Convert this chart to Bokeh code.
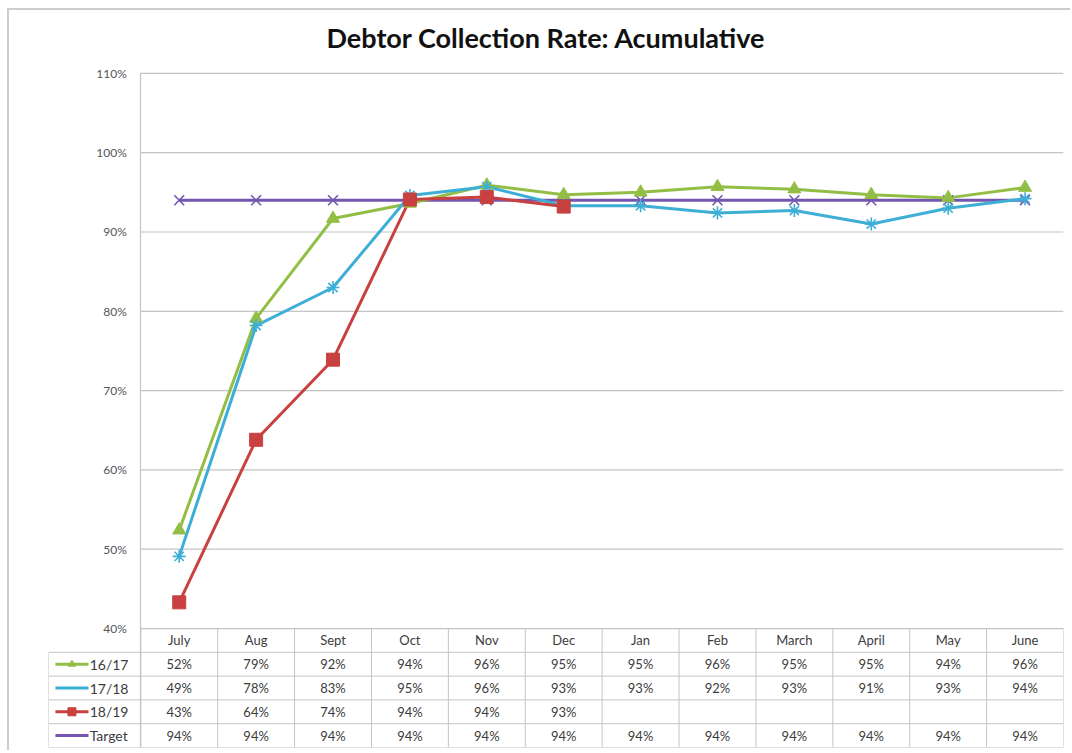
import math

from bokeh.core.properties import value
from bokeh.embed import file_html
from bokeh.models import ColumnDataSource, FixedTicker, PrintfTickFormatter, Range1d
from bokeh.plotting import figure
from bokeh.resources import INLINE

# ---- data -------------------------------------------------------------
months = ["July", "Aug", "Sept", "Oct", "Nov", "Dec",
          "Jan", "Feb", "March", "April", "May", "June"]

rate_16_17 = [52.4, 79.1, 91.7, 93.6, 95.9, 94.7, 95.0, 95.7, 95.4, 94.7, 94.3, 95.6]
rate_17_18 = [49.1, 78.2, 83.0, 94.6, 95.7, 93.3, 93.3, 92.4, 92.7, 91.0, 93.0, 94.2]
rate_18_19 = [43.3, 63.8, 73.9, 94.1, 94.4, 93.2, None, None, None, None, None, None]
target = [94, 94, 94, 94, 94, 94, 94, 94, 94, 94, 94, 94]

series_names = ["16/17", "17/18", "18/19", "Target"]
y_ticks = [40, 50, 60, 70, 80, 90, 100, 110]

# ---- styling ----------------------------------------------------------
COLORS = ["#93BE45", "#3DAFD6", "#C8403F", "#7456B0"]
MARKERS = ["triangle", "asterisk", "square", "x"]
MARKER_SIZES = [13, 13, 13, 14]
FONT = "Lato"
TEXT_COLOR = "#3c3c3c"
GRID_COLOR = "#c4c4c4"
BORDER_COLOR = "#cdcdcd"

W, H = 1063, 742       # canvas size; the chart-area border and its margin add 9 x 10 px
N = len(months)
LEG_W = 1.2            # width of the legend column of the data table (in column units)
ROW = 3.0              # height of one table row (in percent units)
TOP_PAD = 2.0          # head room above the top gridline so its label is not cut
N_ROWS = len(series_names) + 1
Y_MIN = y_ticks[0] - N_ROWS * ROW
X_LEFT = -0.5 - LEG_W

p = figure(width=W, height=H, output_backend="svg", toolbar_location=None,
           x_range=Range1d(X_LEFT, N - 0.5), y_range=Range1d(Y_MIN, y_ticks[-1] + TOP_PAD),
           min_border_left=39, min_border_right=9, min_border_top=47, min_border_bottom=5,
           x_axis_location=None, background_fill_color="white", border_fill_color="white")
p.styles = {"border-left": f"2px solid {BORDER_COLOR}", "border-top": f"2px solid {BORDER_COLOR}",
            "margin-left": "7px", "margin-top": "8px"}
p.outline_line_color = None
p.xgrid.visible = False
p.ygrid.visible = False

p.title.text = "Debtor Collection Rate: Acumulative"
p.title.align = "left"
p.title.offset = 278
p.title.text_font = FONT
p.title.text_font_style = "bold"
p.title.text_font_size = "27px"
p.title.text_color = "#111111"
p.title.standoff = 7

# y axis sits on the left edge of the plotting area, right of the legend column
yax = p.yaxis[0]
yax.fixed_location = -0.5
yax.bounds = (Y_MIN, y_ticks[-1])
yax.ticker = FixedTicker(ticks=y_ticks)
yax.formatter = PrintfTickFormatter(format="%d%%")
yax.major_tick_out = 0
yax.major_tick_in = 0
yax.minor_tick_out = 0
yax.minor_tick_in = 0
yax.major_label_standoff = 14
yax.major_label_text_font = FONT
yax.major_label_text_font_size = "12px"
yax.major_label_text_color = "#555555"
yax.axis_line_color = GRID_COLOR
yax.axis_line_width = 1.2

# horizontal gridlines over the plotting area only
p.segment(x0=[-0.5] * len(y_ticks), x1=[N - 0.5] * len(y_ticks), y0=y_ticks, y1=y_ticks,
          line_color=GRID_COLOR, line_width=1.2)

# ---- data table below the chart --------------------------------------
row_tops = [y_ticks[0] - k * ROW for k in range(N_ROWS + 1)]      # 40, 37, ..., 25
# horizontal table lines (the header row has no legend cell)
p.segment(x0=[X_LEFT] * N_ROWS, x1=[N - 0.5] * N_ROWS, y0=row_tops[1:], y1=row_tops[1:],
          line_color=GRID_COLOR, line_width=1)
# vertical table lines
col_edges = [i - 0.5 for i in range(N + 1)]
p.segment(x0=col_edges, x1=col_edges, y0=[Y_MIN] * len(col_edges), y1=[y_ticks[0]] * len(col_edges),
          line_color=GRID_COLOR, line_width=1)
p.segment(x0=[X_LEFT], x1=[X_LEFT], y0=[Y_MIN], y1=[row_tops[1]], line_color=GRID_COLOR, line_width=1)

xs = list(range(N))
header_y = y_ticks[0] - ROW / 2
p.text(x=xs, y=[header_y] * N, text=months, text_align="center", text_baseline="middle",
       text_font=value(FONT), text_font_size="13px", text_color=TEXT_COLOR)

all_series = [rate_16_17, rate_17_18, rate_18_19, target]


def fmt(v):
    return "" if v is None else f"{v:.0f}%"


for k, (name, vals, col, mk) in enumerate(zip(series_names, all_series, COLORS, MARKERS)):
    yc = y_ticks[0] - ROW * (k + 1.5)
    p.text(x=xs, y=[yc] * N, text=[fmt(v) for v in vals], text_align="center", text_baseline="middle",
           text_font=value(FONT), text_font_size="13px", text_color=TEXT_COLOR)
    # legend key: line swatch with a small marker, then the series name
    sx0, sx1 = X_LEFT + 0.09, X_LEFT + 0.52
    p.segment(x0=[sx0], x1=[sx1], y0=[yc], y1=[yc], line_color=col, line_width=3)
    if name in ("16/17", "18/19"):
        p.scatter(x=[(sx0 + sx1) / 2], y=[yc], marker=mk, size=7 if mk == "triangle" else 8,
                  fill_color=col, line_color=col)
    p.text(x=[X_LEFT + 0.535], y=[yc], text=[name], text_align="left", text_baseline="middle",
           text_font=value(FONT), text_font_size="14px", text_color=TEXT_COLOR)

# ---- series lines -------------------------------------------------------
draw_order = [3, 0, 1, 2]
for k in draw_order:
    ys = [math.nan if v is None else v for v in all_series[k]]
    src = ColumnDataSource(dict(x=xs, y=ys))
    p.line("x", "y", source=src, line_color=COLORS[k], line_width=3)
for k in draw_order:
    ys = [math.nan if v is None else v for v in all_series[k]]
    src = ColumnDataSource(dict(x=xs, y=ys))
    lw = 1.6 if MARKERS[k] in ("asterisk", "x") else 1
    p.scatter("x", "y", source=src, marker=MARKERS[k], size=MARKER_SIZES[k],
              fill_color=COLORS[k], line_color=COLORS[k], line_width=lw)

open("out.html", "w").write(file_html(p, INLINE))
